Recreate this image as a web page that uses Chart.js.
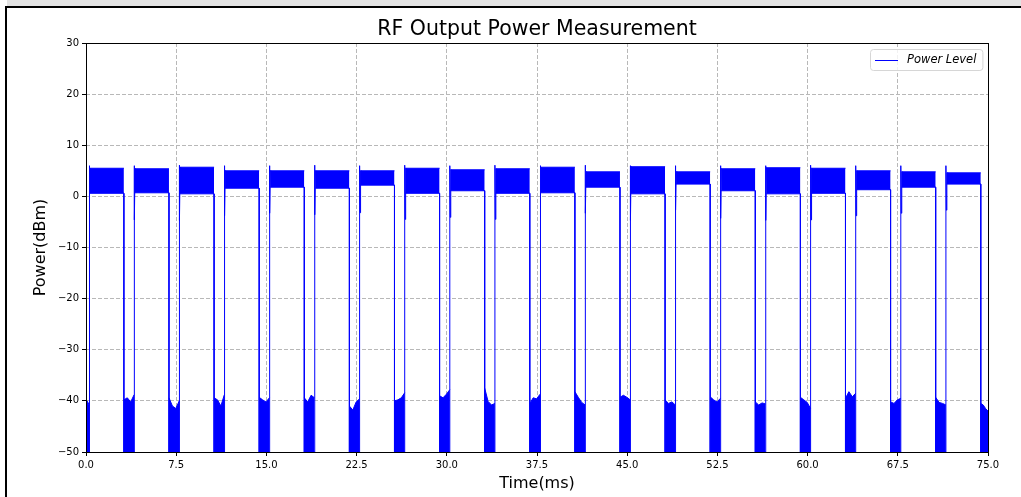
<!DOCTYPE html>
<html>
<head>
<meta charset="utf-8">
<title>RF Output Power Measurement</title>
<script src="https://cdn.jsdelivr.net/npm/chart.js@4.4.0/dist/chart.umd.min.js"></script>
<style>
  html, body { margin: 0; padding: 0; background: #fff; }
  body { width: 1021px; height: 497px; position: relative; overflow: hidden; }
  .bar-top { position: absolute; left: 7px; top: 0; width: 1014px; height: 6px; background: #e3e3e3; }
  .line-top { position: absolute; left: 5px; top: 6px; width: 1016px; height: 2px; background: #000; }
  .line-left { position: absolute; left: 5px; top: 6px; width: 2px; height: 491px; background: #000; }
  #chart { position: absolute; left: 7px; top: 8px; }
</style>
</head>
<body>
<div class="bar-top"></div>
<div class="line-top"></div>
<div class="line-left"></div>
<canvas id="chart" width="1014" height="489"></canvas>
<script>
// --- values ---
const xTickValues = [0, 7.5, 15, 22.5, 30, 37.5, 45, 52.5, 60, 67.5, 75];
const yTickValues = [-50, -40, -30, -20, -10, 0, 10, 20, 30];

// pulse on / off times (ms)
const pulseStart = [0.25, 4.0, 7.75, 11.5, 15.25, 19.0, 22.75, 26.5, 30.25, 34.0,
                    37.75, 41.5, 45.25, 49.0, 52.75, 56.5, 60.25, 64.0, 67.75, 71.5];
const pulseEnd   = [3.15, 6.9, 10.65, 14.4, 18.15, 21.9, 25.65, 29.4, 33.15, 36.9,
                    40.65, 44.4, 48.15, 51.9, 55.65, 59.4, 63.15, 66.9, 70.65, 74.4];

// level band during each pulse (dBm)
const bandHigh  = [5.5, 5.4, 5.7, 5.0, 5.0, 5.0, 5.0, 5.5, 5.2, 5.4,
                   5.7, 4.8, 5.8, 4.8, 5.4, 5.6, 5.5, 5.0, 4.8, 4.6];
const bandLow   = [0.6, 0.7, 0.5, 1.6, 1.8, 1.6, 2.2, 0.6, 1.1, 0.6,
                   0.7, 1.8, 0.5, 2.4, 1.1, 0.5, 0.6, 1.3, 1.8, 2.4];
const spikePeak = [6.0, 6.0, 6.1, 6.0, 6.0, 6.1, 6.0, 6.1, 6.0, 6.1,
                   6.0, 6.1, 6.0, 6.0, 6.0, 6.0, 6.1, 6.0, 6.0, 6.0];
const dipLow    = [-4.9, -4.6, -4.7, -3.8, -3.3, -3.6, -3.2, -4.5, -4.1, -4.5,
                   -4.7, -3.3, -4.7, -2.7, -4.3, -4.7, -4.6, -3.8, -3.3, -2.7];

// noise ceiling in the off gaps (before first pulse, between pulses, after last)
const offTop = [
  [-40.5, -40.0, -40.3, -40.8],
  [-39.8, -39.4, -40.2, -38.8],
  [-39.4, -41.0, -41.5, -40.0],
  [-39.4, -39.8, -41.0, -38.8],
  [-39.3, -39.8, -40.2, -39.4],
  [-39.4, -40.2, -38.9, -39.4],
  [-41.0, -41.8, -40.2, -39.6],
  [-40.0, -39.8, -39.4, -38.4],
  [-39.0, -39.4, -38.7, -37.8],
  [-37.5, -40.1, -40.8, -40.5],
  [-40.5, -39.4, -39.6, -38.7],
  [-38.2, -39.3, -40.3, -40.8],
  [-39.3, -38.9, -39.3, -39.8],
  [-39.8, -40.5, -40.2, -40.8],
  [-39.2, -39.8, -40.2, -39.5],
  [-40.2, -40.8, -40.4, -40.6],
  [-39.3, -39.8, -40.3, -41.5],
  [-39.5, -38.2, -39.2, -38.5],
  [-40.2, -40.5, -39.8, -39.5],
  [-39.3, -40.3, -40.5, -40.8],
  [-40.5, -40.8, -41.5, -42.0]
];

const T_MIN = 0, T_MAX = 75;
const FLOOR = -50, CEIL = 30;
const BLUE = '#0000ff';
const FONT = 'DejaVu Sans';

// --- build point lists ---
const trace = [], bandTopPts = [], bandBottomPts = [], offPts = [];

const gapStart = [T_MIN, ...pulseEnd];
const gapEnd = [...pulseStart, T_MAX];
gapStart.forEach((a, g) => {
  const b = gapEnd[g];
  const vals = offTop[g];
  vals.forEach((v, j) => offPts.push({ x: a + (b - a) * j / (vals.length - 1), y: v }));
  offPts.push({ x: b, y: null });
});

pulseStart.forEach((t0, i) => {
  const t1 = pulseEnd[i];
  trace.push(
    { x: t0, y: FLOOR },
    { x: t0, y: spikePeak[i] },
    { x: t0 + 0.04, y: dipLow[i] },
    { x: t0 + 0.08, y: bandHigh[i] },
    { x: t1, y: bandLow[i] },
    { x: t1, y: FLOOR }
  );
  bandTopPts.push({ x: t0 + 0.06, y: bandHigh[i] }, { x: t1, y: bandHigh[i] }, { x: t1, y: null });
  bandBottomPts.push({ x: t0 + 0.06, y: bandLow[i] }, { x: t1, y: bandLow[i] }, { x: t1, y: null });
});

// box round the plot + matplotlib style legend
const frameAndLegend = {
  id: 'frameAndLegend',
  afterDraw(chart) {
    const { ctx, chartArea: a } = chart;
    ctx.save();
    ctx.setLineDash([]);
    ctx.strokeStyle = '#000';
    ctx.lineWidth = 1;
    ctx.strokeRect(Math.round(a.left) + 0.5, Math.round(a.top) + 0.5,
                   Math.round(a.right - a.left), Math.round(a.bottom - a.top));

    const label = chart.data.datasets[0].label;
    ctx.font = 'italic 11.5px "' + FONT + '"';
    const tw = ctx.measureText(label).width;
    const h = 21;
    const w = 5 + 23 + 9 + tw + 6;
    const right = Math.round(a.right) - 6;
    const left = Math.round(right - w);
    const top = Math.round(a.top) + 6;
    ctx.beginPath();
    ctx.roundRect(left + 0.5, top + 0.5, w, h, 3);
    ctx.fillStyle = 'rgba(255,255,255,0.8)';
    ctx.fill();
    ctx.strokeStyle = '#d6d6d6';
    ctx.stroke();

    const cy = top + h / 2;
    ctx.beginPath();
    ctx.moveTo(left + 5, Math.round(cy) + 0.5);
    ctx.lineTo(left + 28, Math.round(cy) + 0.5);
    ctx.strokeStyle = BLUE;
    ctx.stroke();

    ctx.fillStyle = '#000';
    ctx.textBaseline = 'middle';
    ctx.fillText(label, left + 37, cy + 0.5);
    ctx.restore();
  }
};

const lineSet = (label, data, fill) => ({
  label, data, fill,
  borderColor: BLUE,
  backgroundColor: BLUE,
  borderWidth: 1,
  pointRadius: 0,
  tension: 0
});

new Chart(document.getElementById('chart'), {
  type: 'line',
  data: {
    datasets: [
      lineSet('Power Level', trace, false),
      lineSet('band top', bandTopPts, '+1'),
      lineSet('band bottom', bandBottomPts, false),
      lineSet('off noise', offPts, 'start')
    ]
  },
  options: {
    responsive: false,
    animation: false,
    devicePixelRatio: 1,
    spanGaps: false,
    layout: { padding: { left: 0, right: 33, top: 0, bottom: 0 } },
    scales: {
      x: {
        type: 'linear',
        min: T_MIN,
        max: T_MAX,
        afterBuildTicks: s => { s.ticks = xTickValues.map(v => ({ value: v })); },
        afterFit: s => { s.height = 45; },
        ticks: {
          autoSkip: false,
          maxRotation: 0,
          padding: 3,
          color: '#000',
          font: { family: FONT, size: 10 },
          callback: v => Number(v).toFixed(1)
        },
        grid: { color: '#b8b8b8', lineWidth: 1, tickLength: 4, tickColor: '#000', tickBorderDash: [] },
        border: { display: false, dash: [4, 2] },
        title: {
          display: true,
          text: 'Time(ms)',
          color: '#000',
          font: { family: FONT, size: 16 },
          padding: { top: 0, bottom: 4 }
        }
      },
      y: {
        min: FLOOR,
        max: CEIL,
        afterBuildTicks: s => { s.ticks = yTickValues.map(v => ({ value: v })); },
        afterFit: s => { s.width = 79; },
        ticks: {
          padding: 3,
          color: '#000',
          font: { family: FONT, size: 10 },
          callback: v => (v < 0 ? '\u2212' + Math.abs(v) : String(v))
        },
        grid: { color: '#b8b8b8', lineWidth: 1, tickLength: 4, tickColor: '#000', tickBorderDash: [] },
        border: { display: false, dash: [4, 2] },
        title: {
          display: true,
          text: 'Power(dBm)',
          color: '#000',
          font: { family: FONT, size: 16 },
          padding: { top: 24, bottom: 0 }
        }
      }
    },
    plugins: {
      legend: { display: false },
      tooltip: { enabled: false },
      title: {
        display: true,
        fullSize: false,
        text: 'RF Output Power Measurement',
        color: '#000',
        font: { family: FONT, size: 20.5, weight: 'normal' },
        padding: { top: 9, bottom: 1.4 }
      }
    }
  },
  plugins: [frameAndLegend]
});
</script>
</body>
</html>
